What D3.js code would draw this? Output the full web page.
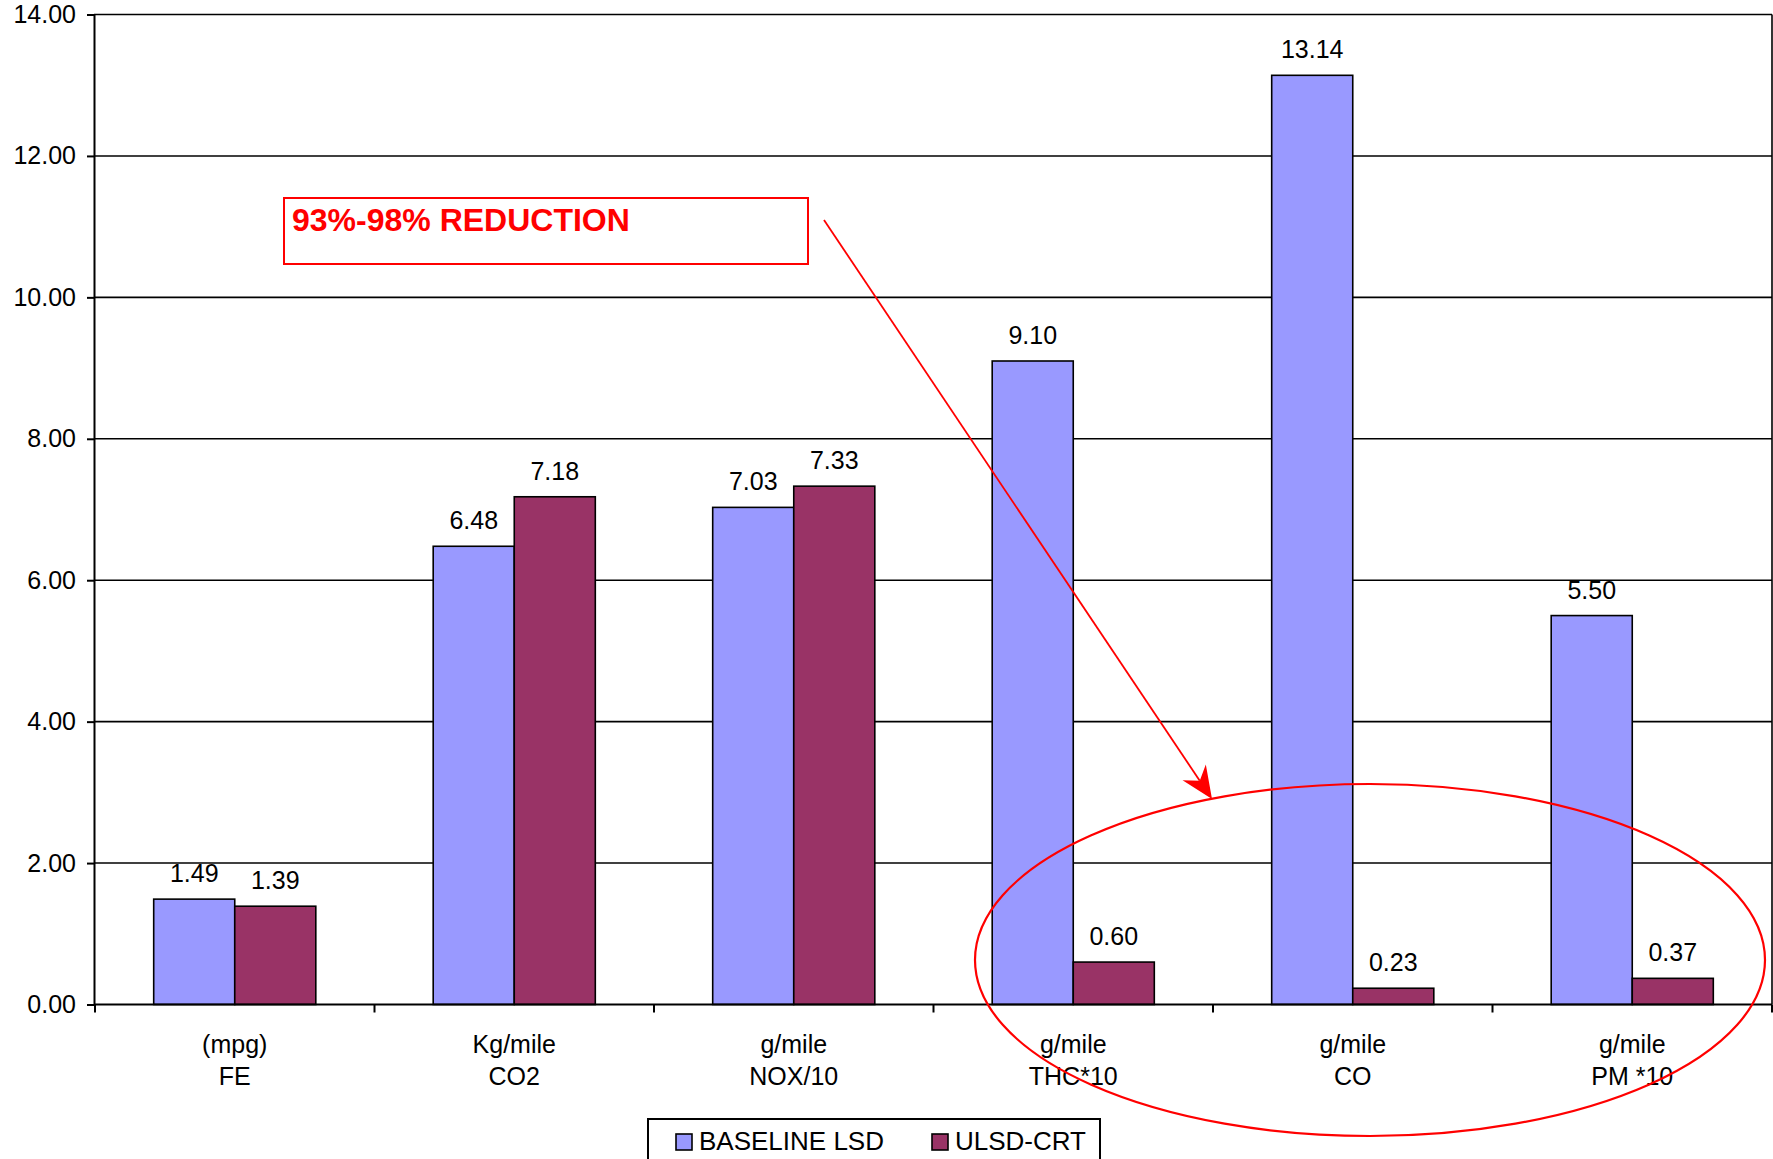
<!DOCTYPE html>
<html>
<head>
<meta charset="utf-8">
<script src="https://cdn.jsdelivr.net/npm/d3@7"></script>
<style>
  html, body { margin: 0; padding: 0; background: #fff; }
  svg { display: block; }
  text { font-family: "Liberation Sans", Arial, sans-serif; fill: #000; }
</style>
</head>
<body>
<script>
// Emission results per category: baseline diesel vs. ULSD with CRT filter
const categories = ["FE", "CO2", "NOX/10", "THC*10", "CO", "PM *10"];
const units = ["(mpg)", "Kg/mile", "g/mile", "g/mile", "g/mile", "g/mile"];
const baselineLSD = [1.49, 6.48, 7.03, 9.10, 13.14, 5.50];
const ulsdCRT = [1.39, 7.18, 7.33, 0.60, 0.23, 0.37];
const seriesNames = ["BASELINE LSD", "ULSD-CRT"];
const yTicks = [0, 2, 4, 6, 8, 10, 12, 14];
const annotationText = "93%-98% REDUCTION";

const W = 1773, H = 1159;
const plot = { left: 94, right: 1772, top: 14.5, bottom: 1004.5 };
const colors = ["#9999FF", "#993366"];

const svg = d3.select("body").append("svg")
  .attr("width", W).attr("height", H);

const x = d3.scaleBand().domain(categories).range([plot.left + 1, plot.right]).padding(0);
const groupFrac = 0.58;
const xs = d3.scaleBand().domain(seriesNames)
  .range([x.bandwidth() * (1 - groupFrac) / 2, x.bandwidth() * (1 + groupFrac) / 2]);
const y = d3.scaleLinear().domain([0, 14]).range([plot.bottom, plot.top]);

// Horizontal gridlines
svg.append("g").selectAll("line").data(yTicks.slice(1)).join("line")
  .attr("x1", plot.left).attr("x2", plot.right)
  .attr("y1", d => y(d)).attr("y2", d => y(d))
  .attr("stroke", "#000").attr("stroke-width", 1.6);

// Right border of plot area
svg.append("line")
  .attr("x1", plot.right).attr("x2", plot.right)
  .attr("y1", plot.top).attr("y2", plot.bottom)
  .attr("stroke", "#000").attr("stroke-width", 1.6);

// Y axis
const yAxis = svg.append("g")
  .attr("transform", `translate(${plot.left},0)`)
  .call(d3.axisLeft(y).tickValues(yTicks).tickFormat(d3.format(".2f")).tickSize(7).tickPadding(11));
yAxis.select(".domain").attr("stroke", "#000").attr("stroke-width", 2);
yAxis.selectAll(".tick line").attr("stroke", "#000").attr("stroke-width", 2);
yAxis.selectAll(".tick text").attr("font-size", 25)
  .attr("font-family", "Liberation Sans, Arial, sans-serif").attr("fill", "#000");

// Bars
const rows = categories.map((c, i) => ({ c, vals: [baselineLSD[i], ulsdCRT[i]] }));
const groups = svg.append("g").selectAll("g").data(rows).join("g")
  .attr("transform", d => `translate(${x(d.c)},0)`);

groups.selectAll("rect")
  .data(d => d.vals.map((v, k) => ({ v, k })))
  .join("rect")
  .attr("x", d => xs(seriesNames[d.k]))
  .attr("width", xs.bandwidth())
  .attr("y", d => y(d.v))
  .attr("height", d => y(0) - y(d.v))
  .attr("fill", d => colors[d.k])
  .attr("stroke", "#000").attr("stroke-width", 1.6);

groups.selectAll("text.val")
  .data(d => d.vals.map((v, k) => ({ v, k })))
  .join("text").attr("class", "val")
  .attr("x", d => xs(seriesNames[d.k]) + xs.bandwidth() / 2)
  .attr("y", d => y(d.v) - 17)
  .attr("text-anchor", "middle")
  .attr("font-size", 25)
  .text(d => d.v.toFixed(2));

// X axis with category boundary ticks
const xAxisG = svg.append("g");
xAxisG.append("line")
  .attr("x1", plot.left).attr("x2", plot.right)
  .attr("y1", y(0)).attr("y2", y(0))
  .attr("stroke", "#000").attr("stroke-width", 2);
const boundaries = categories.map(c => x(c)).concat([plot.right]);
xAxisG.selectAll("line.tk").data(boundaries).join("line").attr("class", "tk")
  .attr("x1", d => d).attr("x2", d => d)
  .attr("y1", y(0)).attr("y2", y(0) + 8)
  .attr("stroke", "#000").attr("stroke-width", 2);

const catLabels = xAxisG.selectAll("text.cat").data(categories).join("text").attr("class", "cat")
  .attr("text-anchor", "middle")
  .attr("font-size", 25);
catLabels.append("tspan")
  .attr("x", d => x(d) + x.bandwidth() / 2).attr("y", y(0) + 48)
  .text((d, i) => units[i]);
catLabels.append("tspan")
  .attr("x", d => x(d) + x.bandwidth() / 2).attr("y", y(0) + 80)
  .text(d => d);

// Legend
const legend = svg.append("g").attr("transform", "translate(648,1119)");
legend.append("rect")
  .attr("x", 0).attr("y", 0).attr("width", 452).attr("height", 60)
  .attr("fill", "#fff").attr("stroke", "#000").attr("stroke-width", 2);
const legendX = [28, 284];
seriesNames.forEach((name, k) => {
  legend.append("rect")
    .attr("x", legendX[k]).attr("y", 15).attr("width", 16).attr("height", 16)
    .attr("fill", colors[k]).attr("stroke", "#000").attr("stroke-width", 1.6);
  legend.append("text")
    .attr("x", legendX[k] + 23).attr("y", 31)
    .attr("font-size", 26)
    .text(name);
});

// Annotation: label box, arrow and ellipse around the reduced emissions
const red = "#FF0000";
svg.append("rect")
  .attr("x", 284).attr("y", 198).attr("width", 524).attr("height", 66)
  .attr("fill", "none").attr("stroke", red).attr("stroke-width", 2);
svg.append("text")
  .attr("x", 292).attr("y", 231)
  .attr("font-size", 32).attr("font-weight", "bold")
  .style("fill", red)
  .text(annotationText);

const a0 = [824, 220], a1 = [1212, 799];
const dx = a1[0] - a0[0], dy = a1[1] - a0[1];
const len = Math.hypot(dx, dy);
const ux = dx / len, uy = dy / len, px = -uy, py = ux;
const headLen = 32, headHalf = 14, notch = 22;
svg.append("line")
  .attr("x1", a0[0]).attr("y1", a0[1])
  .attr("x2", a1[0] - ux * notch).attr("y2", a1[1] - uy * notch)
  .attr("stroke", red).attr("stroke-width", 1.8);
const base = [a1[0] - ux * headLen, a1[1] - uy * headLen];
const nt = [a1[0] - ux * notch, a1[1] - uy * notch];
svg.append("path")
  .attr("d", `M${a1[0]},${a1[1]} L${base[0] + px * headHalf},${base[1] + py * headHalf} L${nt[0]},${nt[1]} L${base[0] - px * headHalf},${base[1] - py * headHalf} Z`)
  .attr("fill", red);

svg.append("ellipse")
  .attr("cx", 1370).attr("cy", 960).attr("rx", 395).attr("ry", 176)
  .attr("fill", "none").attr("stroke", red).attr("stroke-width", 2.2);
</script>
</body>
</html>
